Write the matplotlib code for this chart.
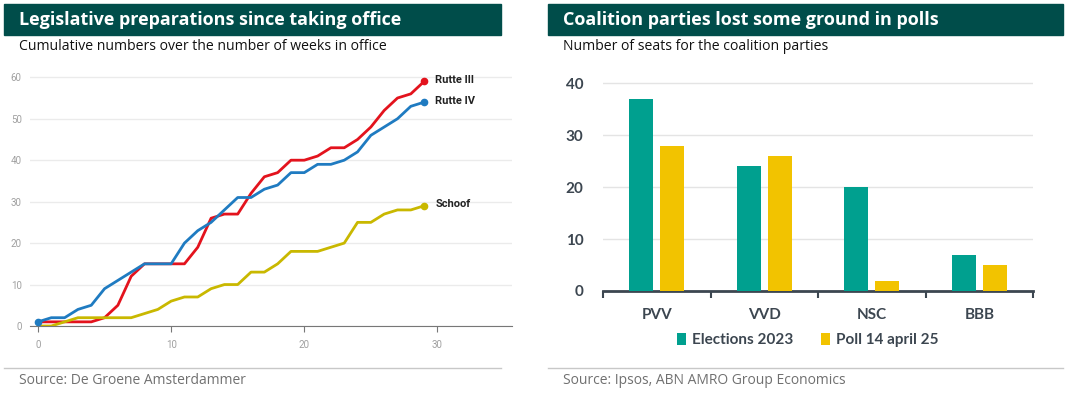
import matplotlib
matplotlib.use('Agg')
import matplotlib.pyplot as plt
import numpy as np
from matplotlib.patches import Rectangle
from matplotlib.lines import Line2D

plt.rcParams['font.family'] = ['Lato', 'DejaVu Sans']
HEAD = ['Open Sans', 'DejaVu Sans']

# left chart: cumulative legislative preparations per week in office
weeks = list(range(30))
rutte_iii = [1, 1, 1, 1, 1, 2, 5, 12, 15, 15, 15, 15, 19, 26, 27, 27, 32, 36, 37, 40,
             40, 41, 43, 43, 45, 48, 52, 55, 56, 59]
rutte_iv = [1, 2, 2, 4, 5, 9, 11, 13, 15, 15, 15, 20, 23, 25, 28, 31, 31, 33, 34, 37,
            37, 39, 39, 40, 42, 46, 48, 50, 53, 54]
schoof = [0, 0, 1, 2, 2, 2, 2, 2, 3, 4, 6, 7, 7, 9, 10, 10, 13, 13, 15, 18,
          18, 18, 19, 20, 25, 25, 27, 28, 28, 29]
line_names = ['Rutte III', 'Rutte IV', 'Schoof']
line_colors = ['#e3131d', '#1f7bc1', '#c9b800']

# right chart: seats
parties = ['PVV', 'VVD', 'NSC', 'BBB']
elections_2023 = [37, 24, 20, 7]
poll_apr25 = [28, 26, 2, 5]
series_names = ['Elections 2023', 'Poll 14 april 25']
bar_colors = ['#00a08f', '#f2c300']

W, H = 1068, 396
fig = plt.figure(figsize=(W / 100, H / 100), dpi=100)


def px(x0, y0, x1, y1):
    # pixel box (top-left origin) -> figure fraction rect
    return [x0 / W, 1 - y1 / H, (x1 - x0) / W, (y1 - y0) / H]


band = '#004d4a'
fig.patches.append(Rectangle((4 / W, 1 - 35 / H), 497 / W, 31 / H, transform=fig.transFigure,
                             color=band, zorder=0))
fig.patches.append(Rectangle((548 / W, 1 - 35 / H), 515 / W, 31 / H, transform=fig.transFigure,
                             color=band, zorder=0))
fig.text(19 / W, 1 - 20 / H, 'Legislative preparations since taking office', color='white',
         fontsize=13, fontweight='bold', va='center', family=HEAD)
fig.text(563 / W, 1 - 20 / H, 'Coalition parties lost some ground in polls', color='white',
         fontsize=13, fontweight='bold', va='center', family=HEAD)
fig.text(19 / W, 1 - 47 / H, 'Cumulative numbers over the number of weeks in office',
         fontsize=10.1, va='center', color='#111111', family=HEAD)
fig.text(563 / W, 1 - 47 / H, 'Number of seats for the coalition parties',
         fontsize=10.1, va='center', color='#111111', family=HEAD)

for x0, x1 in [(4, 501), (548, 1063)]:
    fig.lines.append(Line2D([x0 / W, x1 / W], [1 - 368 / H] * 2, transform=fig.transFigure,
                            color='#c8c8c8', lw=1))
fig.text(19 / W, 1 - 381 / H, 'Source: De Groene Amsterdammer', fontsize=10,
         color='#707070', va='center', family=HEAD)
fig.text(563 / W, 1 - 381 / H, 'Source: Ipsos, ABN AMRO Group Economics', fontsize=10,
         color='#707070', va='center', family=HEAD)

# ---- left: line chart
ax = fig.add_axes(px(30, 69, 512, 326))
for vals, name, col in zip([rutte_iii, rutte_iv, schoof], line_names, line_colors):
    ax.plot(weeks, vals, color=col, lw=2, solid_joinstyle='round', zorder=3)
    ax.plot(weeks[-1], vals[-1], 'o', color=col, ms=4.5, zorder=4)
    ax.annotate(name, (weeks[-1], vals[-1]), xytext=(8, 1), textcoords='offset points',
                fontsize=8, fontweight='bold', va='center', family=['Roboto', 'DejaVu Sans'],
                color='#222222')
ax.plot(weeks[0], rutte_iv[0], 'o', color=line_colors[1], ms=4.5, zorder=4)
ax.set_xlim(-0.6, 35.6)
ax.set_ylim(0, 62)
ax.set_yticks(range(0, 61, 10))
ax.set_xticks(range(0, 31, 10))
ax.grid(axis='y', color='#ebebeb', lw=1)
ax.set_axisbelow(True)
for s in ['top', 'right', 'left']:
    ax.spines[s].set_visible(False)
ax.spines['bottom'].set_color('#777777')
ax.tick_params(axis='y', length=0, pad=6, labelsize=7, labelcolor='#a0a0a0')
ax.tick_params(axis='x', length=4, color='#777777', pad=6, labelsize=7, labelcolor='#a0a0a0')
for lab in ax.get_xticklabels() + ax.get_yticklabels():
    lab.set_family(['Roboto', 'DejaVu Sans'])

# ---- right: bar chart
bx = fig.add_axes(px(603, 73, 1033, 291))
x = np.arange(len(parties))
bw, off = 0.225, 0.145
bx.bar(x - off, elections_2023, bw, color=bar_colors[0], label=series_names[0], zorder=3)
bx.bar(x + off, poll_apr25, bw, color=bar_colors[1], label=series_names[1], zorder=3)
bx.set_xlim(-0.5, 3.5)
bx.set_ylim(0, 42)
bx.set_yticks(range(0, 41, 10))
bx.set_xticks(x)
bx.set_xticklabels(parties)
bx.set_xticks(np.arange(-0.5, 3.6, 1), minor=True)
bx.grid(axis='y', color='#e4e4e4', lw=1)
bx.set_axisbelow(True)
for s in ['top', 'right', 'left']:
    bx.spines[s].set_visible(False)
bx.spines['bottom'].set_color('#3c4650')
bx.spines['bottom'].set_linewidth(2)
bx.tick_params(axis='y', length=0, pad=14, labelsize=11, labelcolor='#3c4650')
bx.tick_params(axis='x', which='major', length=0, pad=12, labelsize=11, labelcolor='#3c4650')
bx.tick_params(axis='x', which='minor', length=5, width=1.5, color='#3c4650')
for lab in bx.get_xticklabels() + bx.get_yticklabels():
    lab.set_fontweight('bold')
leg = fig.legend(loc='center', bbox_to_anchor=(808 / W, 1 - 340 / H), ncol=2, frameon=False,
                 fontsize=11, handlelength=0.6, handleheight=0.9, handletextpad=0.4,
                 columnspacing=1.8)
for t in leg.get_texts():
    t.set_fontweight('bold')
    t.set_color('#3c4650')

fig.savefig('out.png', dpi=100)
